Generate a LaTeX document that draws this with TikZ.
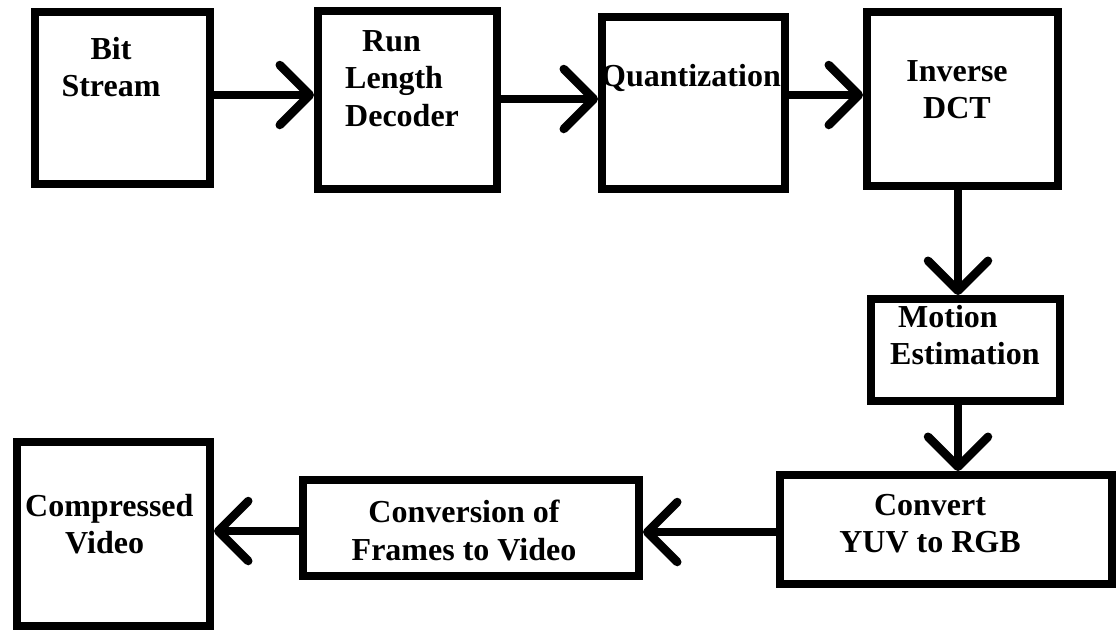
\documentclass[tikz,border=0pt]{standalone}
\usepackage{fontspec}
\setmainfont{Liberation Serif}
\usetikzlibrary{arrows.meta}
\begin{document}
\begin{tikzpicture}[x=1pt,y=-1pt,
  box/.style={draw=black,line width=8pt,inner sep=0pt,fill=white},
  lbl/.style={inner sep=0pt,anchor=north,font=\bfseries\fontsize{32}{37.5}\selectfont,text=black},
  arr/.style={line width=8.5pt,-{Straight Barb[length=30pt,width=60pt,round]}}]
\useasboundingbox (0,0) rectangle (1120,630);
% boxes
\node[box,minimum width=175pt,minimum height=172pt] (b1) at (122.5,98) {};
\node[box,minimum width=179pt,minimum height=178pt] (b2) at (407.5,100) {};
\node[box,minimum width=183pt,minimum height=172pt] (b3) at (693.5,103) {};
\node[box,minimum width=191pt,minimum height=174pt] (b4) at (962.5,99) {};
\node[box,minimum width=189pt,minimum height=102pt] (b5) at (965.5,350) {};
\node[box,minimum width=332pt,minimum height=109pt] (b6) at (946,529.5) {};
\node[box,minimum width=336pt,minimum height=96pt] (b7) at (471,528) {};
\node[box,minimum width=193pt,minimum height=184pt] (b8) at (113.5,534) {};
% labels
\node[lbl,align=center] (t1) at (111,37) {Bit\\Stream};
\node[lbl,align=left,anchor=north west] (t2) at (345,30) {\hspace*{17pt}Run\\Length\\Decoder};
\node[lbl] (t3) at (691,64) {Quantization};
\node[lbl,align=center] (t4) at (957,60) {Inverse\\DCT};
\node[lbl,align=left,anchor=north west] (t5) at (890,305) {\hspace*{8pt}Motion\\Estimation};
\node[lbl,align=center] (t6) at (930,494) {Convert\\YUV to RGB};
\node[lbl,align=center] (t7) at (464,500) {Conversion of\\Frames to Video};
\node[lbl,align=left,anchor=north west] (t8) at (25,494) {Compressed\\\hspace*{40pt}Video};
% connectors
\draw[arr] (b1.east |- 0,95) -- (b2.west |- 0,95);
\draw[arr] (b2.east |- 0,99) -- (b3.west |- 0,99);
\draw[arr] (b3.east |- 0,95) -- (b4.west |- 0,95);
\draw[arr] (b4.south -| 958,0) -- (b5.north -| 958,0);
\draw[arr] (b5.south -| 958,0) -- (b6.north -| 958,0);
\draw[arr] (b6.west |- 0,532) -- (b7.east |- 0,532);
\draw[arr] (b7.west |- 0,531) -- (b8.east |- 0,531);
\end{tikzpicture}
\end{document}
